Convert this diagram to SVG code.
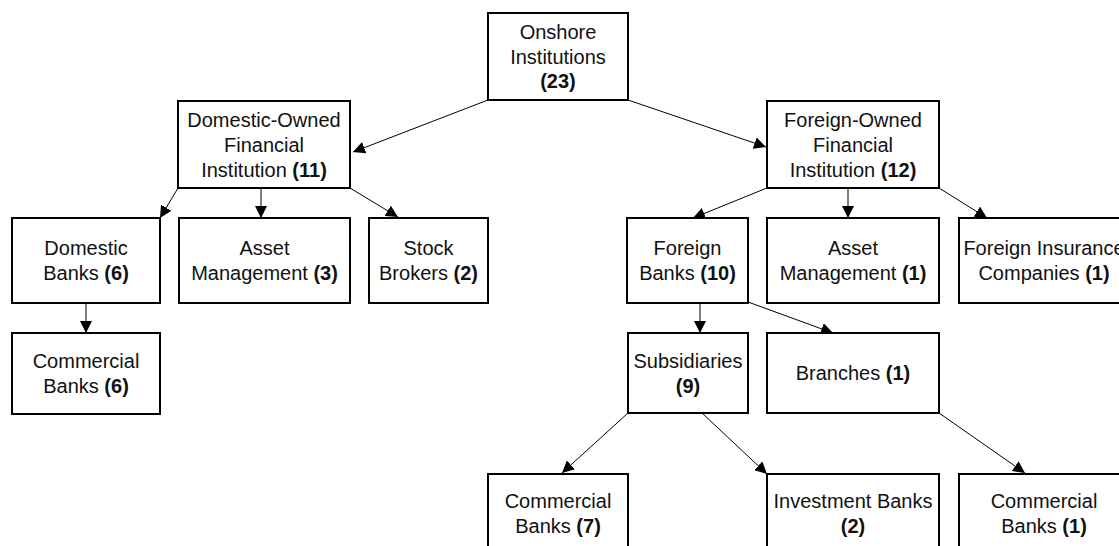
<svg xmlns="http://www.w3.org/2000/svg" width="1119" height="546" viewBox="0 0 1119 546">
<style>
.box{fill:#fff;stroke:#000;stroke-width:2}
.t{font-family:"Liberation Sans",Arial,sans-serif;font-size:20px;fill:#111;text-anchor:middle}
.b{font-weight:bold}
.c{stroke:#000;stroke-width:1;fill:none;marker-end:url(#ah)}
</style>
<defs>
<marker id="ah" markerUnits="userSpaceOnUse" markerWidth="13" markerHeight="12" refX="12" refY="6" orient="auto">
<path d="M0,0 L12,6 L0,12 z" fill="#000"/>
</marker>
</defs>
<rect width="1119" height="546" fill="#fff"/>
<g id="connectors">
<line class="c" x1="488" y1="100" x2="353" y2="152"/>
<line class="c" x1="628" y1="100" x2="766" y2="147"/>
<line class="c" x1="178" y1="188" x2="160" y2="218"/>
<line class="c" x1="261" y1="188" x2="261" y2="218"/>
<line class="c" x1="350" y1="188" x2="398" y2="217"/>
<line class="c" x1="86" y1="303" x2="86" y2="333"/>
<line class="c" x1="767" y1="188" x2="693" y2="218"/>
<line class="c" x1="848" y1="188" x2="848" y2="218"/>
<line class="c" x1="939" y1="188" x2="987" y2="218"/>
<line class="c" x1="700" y1="303" x2="700" y2="333"/>
<line class="c" x1="748" y1="302" x2="833" y2="333"/>
<line class="c" x1="628" y1="413" x2="562" y2="473"/>
<line class="c" x1="702" y1="413" x2="767" y2="474"/>
<line class="c" x1="939" y1="413" x2="1025" y2="473"/>
</g>
<g id="onshore"><rect class="box" x="488" y="13" width="140" height="87"/>
<text class="t" x="558" y="39">Onshore</text><text class="t" x="558" y="64">Institutions</text><text class="t b" x="558" y="88">(23)</text></g>
<g id="domestic"><rect class="box" x="178" y="101" width="172" height="87"/>
<text class="t" x="264" y="127">Domestic-Owned</text><text class="t" x="264" y="152">Financial</text><text class="t" x="264" y="177">Institution <tspan class="b">(11)</tspan></text></g>
<g id="foreign"><rect class="box" x="767" y="101" width="172" height="87"/>
<text class="t" x="853" y="127">Foreign-Owned</text><text class="t" x="853" y="152">Financial</text><text class="t" x="853" y="177">Institution <tspan class="b">(12)</tspan></text></g>
<g id="dbanks"><rect class="box" x="12" y="218" width="148" height="85"/>
<text class="t" x="86" y="255">Domestic</text><text class="t" x="86" y="280">Banks <tspan class="b">(6)</tspan></text></g>
<g id="am3"><rect class="box" x="179" y="218" width="171" height="85"/>
<text class="t" x="264.5" y="255">Asset</text><text class="t" x="264.5" y="280">Management <tspan class="b">(3)</tspan></text></g>
<g id="stock"><rect class="box" x="369" y="218" width="119" height="85"/>
<text class="t" x="428.5" y="255">Stock</text><text class="t" x="428.5" y="280">Brokers <tspan class="b">(2)</tspan></text></g>
<g id="cb6"><rect class="box" x="12" y="333" width="148" height="81"/>
<text class="t" x="86" y="368">Commercial</text><text class="t" x="86" y="393">Banks <tspan class="b">(6)</tspan></text></g>
<g id="fbanks"><rect class="box" x="627" y="218" width="121" height="85"/>
<text class="t" x="687.5" y="255">Foreign</text><text class="t" x="687.5" y="280">Banks <tspan class="b">(10)</tspan></text></g>
<g id="am1"><rect class="box" x="767" y="218" width="172" height="85"/>
<text class="t" x="853" y="255">Asset</text><text class="t" x="853" y="280">Management <tspan class="b">(1)</tspan></text></g>
<g id="fins"><rect class="box" x="959" y="218" width="170" height="85"/>
<text class="t" x="1044" y="255">Foreign Insurance</text><text class="t" x="1044" y="280">Companies <tspan class="b">(1)</tspan></text></g>
<g id="subs"><rect class="box" x="628" y="333" width="120" height="80"/>
<text class="t" x="688" y="368">Subsidiaries</text><text class="t b" x="688" y="393">(9)</text></g>
<g id="branches"><rect class="box" x="767" y="333" width="172" height="80"/>
<text class="t" x="853" y="380">Branches <tspan class="b">(1)</tspan></text></g>
<g id="cb7"><rect class="box" x="488" y="474" width="140" height="80"/>
<text class="t" x="558" y="508">Commercial</text><text class="t" x="558" y="533">Banks <tspan class="b">(7)</tspan></text></g>
<g id="inv"><rect class="box" x="767" y="474" width="172" height="80"/>
<text class="t" x="853" y="508">Investment Banks</text><text class="t b" x="853" y="533">(2)</text></g>
<g id="cb1"><rect class="box" x="959" y="474" width="170" height="80"/>
<text class="t" x="1044" y="508">Commercial</text><text class="t" x="1044" y="533">Banks <tspan class="b">(1)</tspan></text></g>
</svg>
